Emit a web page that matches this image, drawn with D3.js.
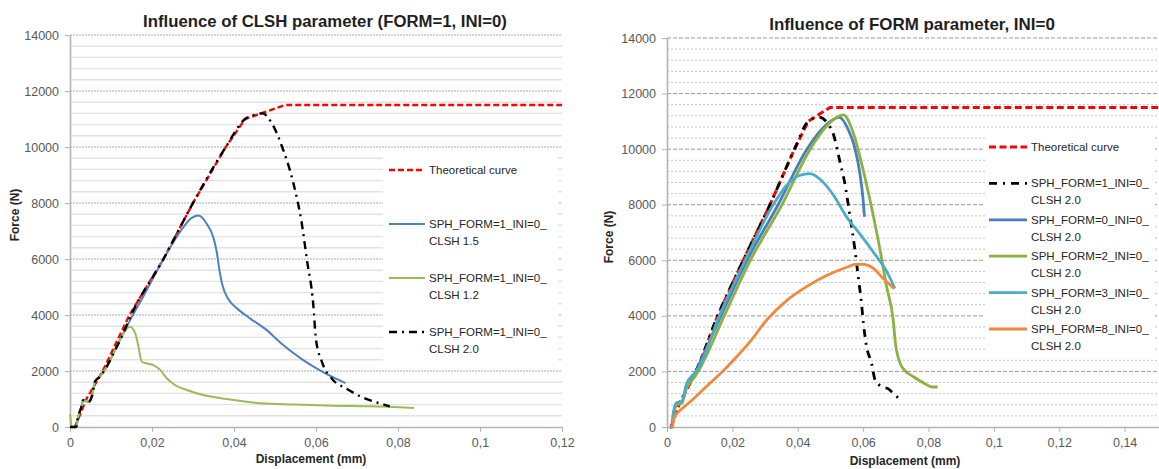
<!DOCTYPE html>
<html lang="en">
<head>
<meta charset="UTF-8">
<title>SPH force - displacement</title>
<script src="https://d3js.org/d3.v7.min.js"></script>
<style>
    body { margin: 0; background: #ffffff; }
    svg text { font-family: "Liberation Sans", Arial, sans-serif; }
    .tick text { fill: #595959; font-size: 12.5px; }
    .chartTitle { font-weight: bold; fill: #1f1f1f; }
    .axisTitle { font-weight: bold; font-size: 12px; fill: #262626; }
    .legendText { font-size: 11.5px; fill: #262626; }
</style>
</head>
<body>
<svg id="canvas" width="1159" height="469"></svg>
<script>
// ---------- left chart: CLSH parameter (FORM=1, INI=0) ----------
let leftXTicks = [0, 0.02, 0.04, 0.06, 0.08, 0.1, 0.12];
let leftYTicks = [0, 2000, 4000, 6000, 8000, 10000, 12000, 14000];

let leftTheory = [[0.0012,0],[0.004,1000],[0.008,2000],[0.0145,4000],[0.0228,6000],[0.030,8000],
    [0.038,10000],[0.0427,11000],[0.0524,11500],[0.12,11500]];

let leftClsh15 = [[0,0],[0.0015,0],[0.002,370],[0.0028,730],[0.0032,960],[0.0045,900],[0.0053,1080],
    [0.0061,1620],[0.0073,1800],[0.0085,2040],[0.0106,2630],[0.013,3350],[0.0146,3800],[0.018,4700],
    [0.0228,6000],[0.027,7000],[0.0295,7450],[0.0313,7550],[0.0333,7270],[0.035,6750],[0.0358,6250],
    [0.0364,5650],[0.0372,5050],[0.0385,4600],[0.0407,4240],[0.0439,3880],[0.048,3460],[0.0514,3000],
    [0.0568,2400],[0.0614,1990],[0.065,1720],[0.0672,1570]];

let leftClsh12 = [[0,450],[0.0005,0],[0.0015,0],[0.002,370],[0.0028,730],[0.0032,960],[0.0045,900],
    [0.0053,1080],[0.0061,1620],[0.0073,1800],[0.0085,2040],[0.0106,2630],[0.013,3350],[0.0146,3580],
    [0.0159,3350],[0.0167,2870],[0.0175,2330],[0.0187,2270],[0.0203,2210],[0.022,2040],[0.0236,1740],
    [0.0256,1500],[0.0285,1320],[0.0325,1140],[0.0382,1000],[0.0463,850],[0.055,800],[0.064,760],
    [0.073,740],[0.0839,680]];

let leftClsh20 = [[0,0],[0.0015,0],[0.002,370],[0.0028,730],[0.0032,960],[0.0045,900],[0.0053,1080],
    [0.0061,1620],[0.0073,1800],[0.0085,2040],[0.0106,2630],[0.013,3350],[0.0146,3900],[0.0228,6000],
    [0.030,8000],[0.038,10000],[0.0427,11000],[0.045,11150],[0.047,11200],[0.049,10900],[0.052,9900],
    [0.0545,8700],[0.0565,7300],[0.0578,5960],[0.0593,4430],[0.060,3120],[0.0614,2345],[0.0641,1690],
    [0.0672,1390],[0.0708,1095],[0.074,917],[0.078,738]];

// ---------- right chart: FORM parameter (INI=0) ----------
let rightXTicks = [0, 0.02, 0.04, 0.06, 0.08, 0.1, 0.12, 0.14];
let rightYTicks = [0, 2000, 4000, 6000, 8000, 10000, 12000, 14000];

let rightTheory = [[0.0012,0],[0.004,900],[0.009,2000],[0.0155,4000],[0.0233,6000],[0.0315,8000],
    [0.039,10000],[0.0432,11000],[0.0498,11500],[0.16,11500]];

let rightForm1 = [[0.001,0],[0.0015,0],[0.002,500],[0.003,850],[0.0045,900],[0.006,1500],[0.0085,1950],
    [0.0155,4000],[0.0233,6000],[0.0315,8000],[0.039,10000],[0.0432,11000],[0.0465,11150],[0.049,10950],
    [0.051,10500],[0.0529,9550],[0.0544,8770],[0.056,7570],[0.0575,6370],[0.0585,5410],[0.0595,4450],
    [0.0601,3720],[0.0609,3000],[0.0626,2280],[0.0637,1680],[0.066,1440],[0.0676,1380],[0.0693,1200],
    [0.0716,960]];

let rightForm0 = [[0.001,0],[0.0015,0],[0.002,500],[0.003,850],[0.0045,900],[0.006,1500],[0.0085,1900],
    [0.01,2300],[0.0165,4000],[0.0245,6000],[0.034,8000],[0.0428,10000],[0.048,10800],[0.0527,11140],
    [0.0555,10690],[0.0575,10030],[0.059,9130],[0.06,8170],[0.0604,7570]];

let rightForm2 = [[0.001,0],[0.0015,0],[0.002,400],[0.003,800],[0.0045,850],[0.006,1400],[0.0085,1800],
    [0.0105,2200],[0.0175,4000],[0.0255,6000],[0.0352,8000],[0.0438,10000],[0.049,10850],[0.0539,11230],
    [0.057,10580],[0.0595,9500],[0.0621,8170],[0.0646,6730],[0.0672,5050],[0.0692,3850],[0.0699,3000],
    [0.0716,2220],[0.0727,2040],[0.0755,1800],[0.0789,1560],[0.0811,1440],[0.0828,1440]];

let rightForm3 = [[0.001,0],[0.0015,0],[0.002,550],[0.003,880],[0.0045,900],[0.006,1550],[0.0085,1950],
    [0.0095,2100],[0.016,4000],[0.0239,6000],[0.0325,8000],[0.0366,8700],[0.0405,9050],[0.0437,9120],
    [0.047,8900],[0.0509,8350],[0.055,7550],[0.059,6950],[0.0631,6300],[0.0672,5600],[0.0697,4990]];

let rightForm8 = [[0.0012,0],[0.0016,0],[0.002,250],[0.0028,450],[0.0045,650],[0.008,1000],[0.012,1450],
    [0.0166,1950],[0.0211,2500],[0.0256,3100],[0.0305,3850],[0.0366,4550],[0.0427,5050],[0.0488,5450],
    [0.055,5750],[0.0575,5850],[0.06,5850],[0.0631,5710],[0.0661,5350],[0.0695,4980]];

let svg = d3.select('#canvas');
let fmtX = d3.formatLocale({decimal: ",", thousands: "", grouping: [3], currency: ["", ""]}).format("~g");

let red = {color: "#ff0000", width: 2.4, dash: "6,3"};
let dashDot = {color: "#000000", width: 2.4, dash: "8,5,2,5"};

let panels = [
    {
        left: 70, right: 562, top: 35, bottom: 427, xMax: 0.12, xTicks: leftXTicks, yTicks: leftYTicks,
        minorStyle: {stroke: "#e2e2e2", width: 1.4, dash: null},
        majorStyle: {stroke: "#a8a8a8", width: 1, dash: "2,1"},
        title: "Influence of CLSH parameter (FORM=1, INI=0)", titleX: 325, titleY: 27, titleW: 364,
        xLabelX: 311, xLabelY: 463, yLabelX: 19, yLabelY: 215,
        legend: {x: 383, y: 150, w: 175, h: 218, lineX: 389, lineW: 36, firstY: 170, step: 54},
        series: [
            {name: ["Theoretical curve"], data: leftTheory, style: red, straight: true},
            {name: ["SPH_FORM=1_INI=0_", "CLSH 1.5"], data: leftClsh15, style: {color: "#4f81bd", width: 2}},
            {name: ["SPH_FORM=1_INI=0_", "CLSH 1.2"], data: leftClsh12, style: {color: "#9bbb59", width: 2}},
            {name: ["SPH_FORM=1_INI=0_", "CLSH 2.0"], data: leftClsh20, style: dashDot}
        ]
    },
    {
        left: 667, right: 1190, top: 38, bottom: 427, xMax: 0.16, xTicks: rightXTicks, yTicks: rightYTicks,
        minorStyle: {stroke: "#c4c4c4", width: 1, dash: "2,2"},
        majorStyle: {stroke: "#9a9a9a", width: 1, dash: "4,2"},
        title: "Influence of FORM parameter, INI=0", titleX: 912, titleY: 30, titleW: 286,
        xLabelX: 905, xLabelY: 465, yLabelX: 613, yLabelY: 237,
        legend: {x: 985, y: 130, w: 170, h: 226, lineX: 989, lineW: 38, firstY: 147, step: 36.4},
        series: [
            {name: ["Theoretical curve"], data: rightTheory, style: {color: "#ff0000", width: 3, dash: "7,3.5"}, straight: true},
            {name: ["SPH_FORM=1_INI=0_", "CLSH 2.0"], data: rightForm1, style: {color: "#000000", width: 2.8, dash: "8,6,2,6"}},
            {name: ["SPH_FORM=0_INI=0_", "CLSH 2.0"], data: rightForm0, style: {color: "#4a7ebb", width: 2.8}},
            {name: ["SPH_FORM=2_INI=0_", "CLSH 2.0"], data: rightForm2, style: {color: "#8bb143", width: 2.8}},
            {name: ["SPH_FORM=3_INI=0_", "CLSH 2.0"], data: rightForm3, style: {color: "#4bacc6", width: 2.8}},
            {name: ["SPH_FORM=8_INI=0_", "CLSH 2.0"], data: rightForm8, style: {color: "#f0893e", width: 2.8}}
        ]
    }
];

panels.forEach(drawPanel);

function drawPanel(p) {
    let x = d3.scaleLinear().domain([0, p.xMax]).range([p.left, p.right]);
    let y = d3.scaleLinear().domain([0, 14000]).range([p.bottom, p.top]);
    let g = svg.append('g');

    // minor gridlines every 400 N, major every 2000 N
    let minor = d3.range(400, 14000, 400).filter(v => v % 2000 !== 0);
    g.selectAll('line.minor').data(minor).enter().append('line')
        .attr('x1', p.left).attr('x2', x(p.xMax))
        .attr('y1', d => y(d)).attr('y2', d => y(d))
        .attr('stroke', p.minorStyle.stroke).attr('stroke-width', p.minorStyle.width)
        .attr('stroke-dasharray', p.minorStyle.dash);
    g.selectAll('line.major').data(p.yTicks.filter(v => v > 0)).enter().append('line')
        .attr('x1', p.left).attr('x2', x(p.xMax))
        .attr('y1', d => y(d)).attr('y2', d => y(d))
        .attr('stroke', p.majorStyle.stroke).attr('stroke-width', p.majorStyle.width)
        .attr('stroke-dasharray', p.majorStyle.dash);

    // legend box sits over the grid
    let lg = p.legend;
    g.append('rect').attr('x', lg.x).attr('y', lg.y).attr('width', lg.w).attr('height', lg.h)
        .attr('fill', '#ffffff');

    // axes
    let yAxis = g.append('g').attr('transform', 'translate(' + p.left + ',0)')
        .call(d3.axisLeft(y).tickValues(p.yTicks).tickSize(5).tickSizeOuter(0).tickPadding(6).tickFormat(d3.format('d')));
    let xAxis = g.append('g').attr('transform', 'translate(0,' + p.bottom + ')')
        .call(d3.axisBottom(x).tickValues(p.xTicks).tickSize(5).tickSizeOuter(0).tickPadding(6).tickFormat(fmtX));
    [yAxis, xAxis].forEach(a => {
        a.select('.domain').attr('stroke', '#b3b3b3').attr('stroke-width', 1.6);
        a.selectAll('.tick line').attr('stroke', '#b3b3b3');
        a.selectAll('.tick text').attr('font-size', null);
    });

    // curves: the theoretical one is piecewise linear, the SPH results are smoothed
    let smooth = d3.line().x(d => x(d[0])).y(d => y(d[1])).curve(d3.curveMonotoneX);
    let straight = d3.line().x(d => x(d[0])).y(d => y(d[1]));
    p.series.forEach(s => {
        g.append('path').datum(s.data).attr('d', s.straight ? straight : smooth)
            .attr('fill', 'none').attr('stroke', s.style.color).attr('stroke-width', s.style.width)
            .attr('stroke-dasharray', s.style.dash || null)
            .attr('stroke-linejoin', 'round');
    });

    // legend entries
    p.series.forEach((s, i) => {
        let ly = lg.firstY + i * lg.step;
        g.append('line').attr('x1', lg.lineX).attr('x2', lg.lineX + lg.lineW)
            .attr('y1', ly).attr('y2', ly)
            .attr('stroke', s.style.color).attr('stroke-width', s.style.width)
            .attr('stroke-dasharray', s.style.dash || null);
        let t = g.append('text').attr('class', 'legendText')
            .attr('x', lg.lineX + lg.lineW + 4).attr('y', ly + 4);
        s.name.forEach((n, k) => {
            t.append('tspan').attr('x', lg.lineX + lg.lineW + 4).attr('dy', k === 0 ? 0 : 17).text(n);
        });
    });

    // titles
    let title = g.append('text').attr('class', 'chartTitle')
        .attr('x', p.titleX).attr('y', p.titleY).attr('text-anchor', 'middle')
        .style('font-size', '16px').text(p.title);
    let len = title.node().getComputedTextLength();
    title.style('font-size', (16 * p.titleW / len).toFixed(2) + 'px');

    g.append('text').attr('class', 'axisTitle').attr('x', p.xLabelX).attr('y', p.xLabelY)
        .attr('text-anchor', 'middle').text('Displacement (mm)');
    g.append('text').attr('class', 'axisTitle').attr('text-anchor', 'middle')
        .attr('transform', 'translate(' + p.yLabelX + ',' + p.yLabelY + ') rotate(-90)')
        .text('Force (N)');
}
</script>
</body>
</html>
